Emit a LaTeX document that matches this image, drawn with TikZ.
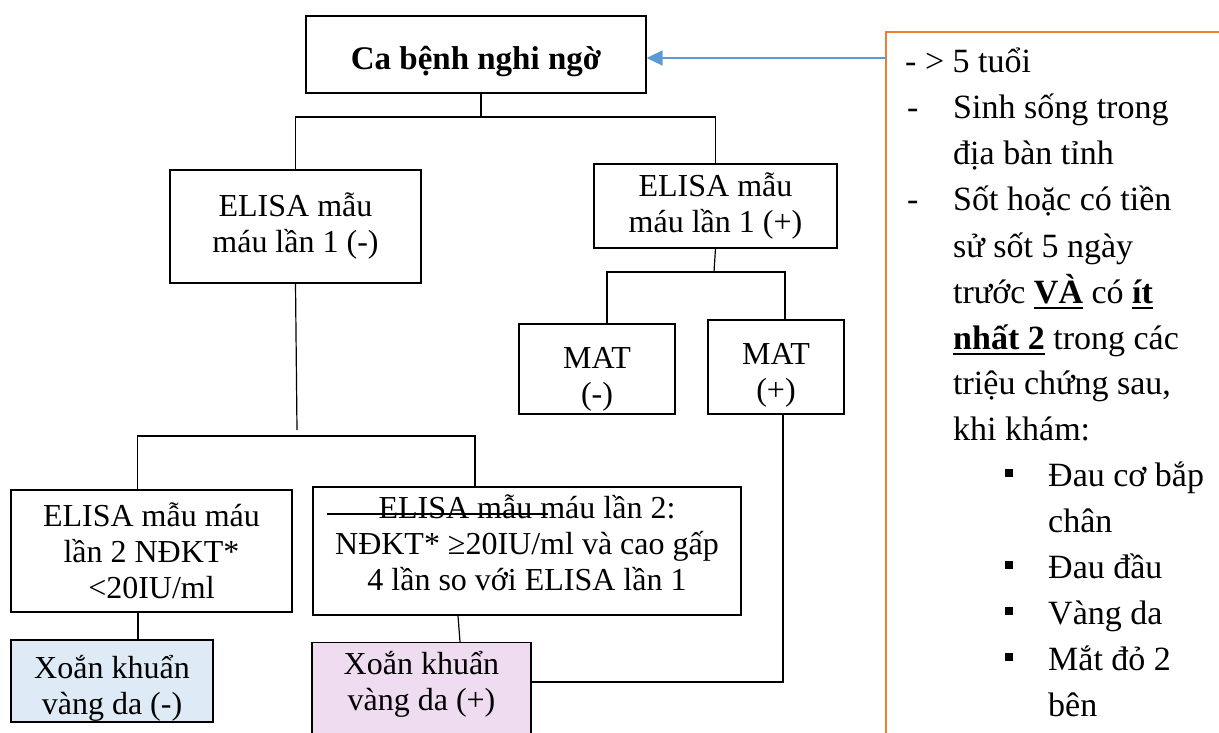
\documentclass[tikz,border=0pt]{standalone}
\usepackage{fontspec}
\setmainfont{Liberation Serif}
\usetikzlibrary{arrows.meta}

\definecolor{panelorange}{HTML}{ED7D31}
\definecolor{arrowblue}{HTML}{5B9BD5}
\definecolor{negfill}{HTML}{DEEBF7}
\definecolor{posfill}{HTML}{F0DCF0}

% bold text with a thick underline
\newcommand{\ulbold}[1]{\leavevmode\setbox0=\hbox{\textbf{#1}}%
  \rlap{\rule[-6.4pt]{\wd0}{2.4pt}}\box0\relax}
% invisible struts to move box text down (top) or up (bottom)
\newcommand{\topstrut}[1]{\rule{0pt}{#1}}
\newcommand{\botstrut}[1]{\rule[-#1]{0pt}{#1}}

\begin{document}
\begin{tikzpicture}[x=1pt,y=-1pt,
    box/.style={draw, line width=1.2pt, align=center, inner sep=0pt,
      font=\fontsize{32}{36}\selectfont},
    link/.style={draw, line width=1.2pt},
    paneltext/.style={anchor=base west, inner sep=0pt,
      font=\fontsize{34}{40}\selectfont},
    bullet/.style={anchor=base west, inner sep=0pt}]
  \useasboundingbox (0,0) rectangle (1219,733);

  % flow chart
  \node[box, minimum width=340pt, minimum height=77pt,
    font=\fontsize{33}{36}\bfseries\selectfont] (suspect) at (476,54.5) {\topstrut{38pt}Ca bệnh nghi ngờ};
  \node[box, minimum width=251pt, minimum height=113pt] (elisaNeg) at (295.5,226.5) {ELISA mẫu\\máu lần 1 (-)};
  \node[box, minimum width=243pt, minimum height=84pt] (elisaPos) at (715.5,206) {ELISA mẫu\\máu lần 1 (+)};
  \node[box, minimum width=156pt, minimum height=90pt] (matNeg) at (597,369) {\topstrut{42pt}MAT\\(-)};
  \node[box, minimum width=136pt, minimum height=94pt] (matPos) at (776,367) {\topstrut{38pt}MAT\\(+)};
  \node[box, minimum width=281pt, minimum height=122pt] (elisaTwoNeg) at (151.5,551) {ELISA mẫu máu\\lần 2 NĐKT*\\<20IU/ml};
  \node[box, minimum width=428pt, minimum height=128pt] (elisaTwoPos) at (527,551) {ELISA mẫu máu lần 2:\\NĐKT* ≥20IU/ml và cao gấp\\4 lần so với ELISA lần 1\botstrut{16pt}};
  \node[box, fill=negfill, minimum width=202pt, minimum height=82pt] (lepNeg) at (112,681) {\topstrut{38pt}Xoắn khuẩn\\vàng da (-)};
  \node[box, fill=posfill, anchor=north, minimum width=219pt] (lepPos) at (421.5,642)
    {\parbox[t][120pt][t]{219pt}{\centering\topstrut{32pt}Xoắn khuẩn\\vàng da (+)}};

  \coordinate (fork1) at (481,117);
  \coordinate (fork2) at (714,272);
  \coordinate (fork3) at (297,430);
  \coordinate (bar) at (297,436);

  \draw[link] (fork1 |- suspect.south) -- (fork1);
  \draw[link] (elisaNeg.north) |- (fork1) -| (elisaPos.north);
  \draw[link] (elisaPos.south) -- (fork2);
  \draw[link] ([xshift=10pt]matNeg.north) |- (fork2) -| ([xshift=9pt]matPos.north);
  \draw[link] (elisaNeg.south) -- (fork3);
  \draw[link] ([xshift=-14pt]elisaTwoNeg.north) |- (bar) -| ([xshift=-52pt]elisaTwoPos.north);
  \draw[link] ([xshift=-13.5pt]elisaTwoNeg.south) -- ([xshift=26pt]lepNeg.north);
  \draw[link] ([xshift=-69pt]elisaTwoPos.south) -- ([xshift=38.5pt]lepPos.north);
  \draw[link] ([xshift=7pt]matPos.south) |- ([yshift=-40pt]lepPos.north east);
  \draw[link] (327,514) -- (548,514);

  % criteria panel
  \coordinate (panel) at (886,32);
  \coordinate (panelEdge) at (886,58);
  \draw[panelorange, line width=2pt] (886,745) -- (panel) -- (1225,32);
  \draw[arrowblue, line width=1.5pt, -{Triangle[length=16pt,width=15pt]}] (panelEdge) -- (suspect.east |- panelEdge);

  \node[paneltext] (c0) at (905,73) {- > 5 tuổi};
  \node[paneltext] (d1) at (907,119) {-};
  \node[paneltext] (c1) at (953,119) {Sinh sống trong};
  \node[paneltext] (c2) at (953,165) {địa bàn tỉnh};
  \node[paneltext] (d3) at (907,211) {-};
  \node[paneltext] (c3) at (953,211) {Sốt hoặc có tiền};
  \node[paneltext] (c4) at (953,257) {sử sốt 5 ngày};
  \node[paneltext] (c5) at (953,303) {trước \ulbold{VÀ} có \ulbold{ít}};
  \node[paneltext] (c6) at (953,349) {\ulbold{nhất 2} trong các};
  \node[paneltext] (c7) at (953,394) {triệu chứng sau,};
  \node[paneltext] (c8) at (953,440) {khi khám:};
  \node[bullet] (b9) at (1005,477) {\rule{8pt}{8pt}};
  \node[paneltext] (c9) at (1048,486) {Đau cơ bắp};
  \node[paneltext] (c10) at (1048,532) {chân};
  \node[bullet] (b11) at (1005,569) {\rule{8pt}{8pt}};
  \node[paneltext] (c11) at (1048,578) {Đau đầu};
  \node[bullet] (b12) at (1005,615) {\rule{8pt}{8pt}};
  \node[paneltext] (c12) at (1048,624) {Vàng da};
  \node[bullet] (b13) at (1005,661) {\rule{8pt}{8pt}};
  \node[paneltext] (c13) at (1048,670) {Mắt đỏ 2};
  \node[paneltext] (c14) at (1048,716) {bên};
\end{tikzpicture}
\end{document}
